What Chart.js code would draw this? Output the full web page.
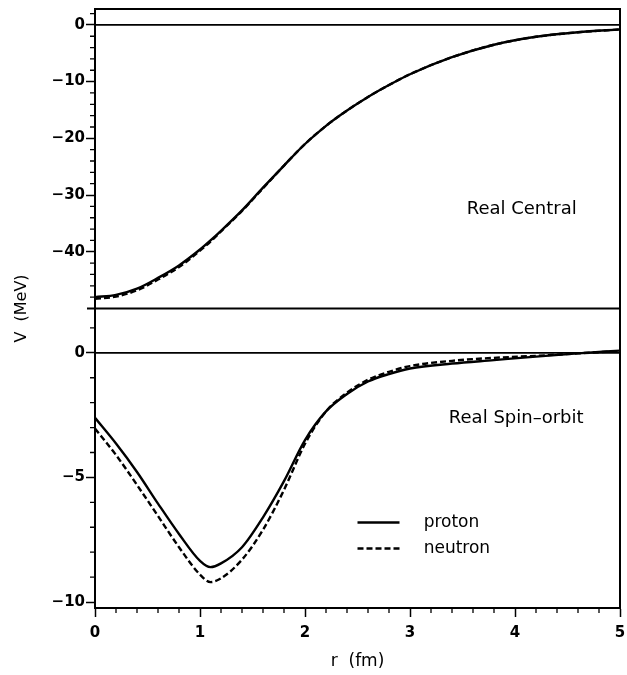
<!DOCTYPE html>
<html lang="en">
<head>
    <meta charset="UTF-8">
    <title>Real Central / Real Spin-orbit</title>
    <script src="https://cdn.jsdelivr.net/npm/chart.js"></script>
    <style>
        body { margin: 0; background: #fff; }
        .wrap { width: 627px; height: 675px; }
    </style>
</head>
<body>
    <div class="wrap"><canvas id="pot"></canvas></div>

    <script>
        // r (fm)
        const r = [0, 0.2, 0.4, 0.6, 0.8, 1.0, 1.1, 1.2, 1.4, 1.6, 1.8, 2.0, 2.2, 2.4, 2.6, 2.8, 3.0, 3.4, 3.8, 4.2, 4.6, 5.0];

        // real central (MeV)
        const centralProton  = [-48.0, -47.6, -46.5, -44.6, -42.4, -39.6, -38.0, -36.3, -32.7, -28.7, -24.8, -21.0, -17.8, -15.1, -12.7, -10.6, -8.7, -5.7, -3.5, -2.1, -1.3, -0.8];
        const centralNeutron = [-48.3, -47.9, -46.8, -44.9, -42.7, -39.8, -38.2, -36.4, -32.8, -28.8, -24.8, -21.0, -17.8, -15.1, -12.7, -10.6, -8.7, -5.7, -3.5, -2.1, -1.3, -0.8];

        // real spin-orbit (MeV)
        const soProton  = [-2.61, -3.64, -4.78, -6.05, -7.27, -8.35, -8.60, -8.45, -7.80, -6.60, -5.15, -3.50, -2.35, -1.65, -1.15, -0.85, -0.63, -0.43, -0.29, -0.15, -0.02, 0.09];
        const soNeutron = [-3.04, -4.10, -5.30, -6.55, -7.80, -8.90, -9.20, -9.05, -8.30, -7.10, -5.50, -3.65, -2.35, -1.60, -1.08, -0.76, -0.53, -0.32, -0.20, -0.12, -0.02, 0.07];

        // tick labels
        const xTicks = [0, 1, 2, 3, 4, 5];
        const centralTicks = [0, -10, -20, -30, -40];
        const soTicks = [0, -5, -10];

        const pts = (ys) => r.map((x, i) => ({ x: x, y: ys[i] }));
        const minus = (v) => (v < 0 ? '\u2212' + Math.abs(v) : String(v));
        const tickFont = { family: 'DejaVu Sans', size: 15, weight: 'bold' };

        function line(label, data, axis, dashed) {
            return {
                label: label,
                data: pts(data),
                yAxisID: axis,
                borderColor: '#000',
                borderWidth: 2.4,
                borderDash: dashed ? [6, 3] : [],
                pointRadius: 0,
                fill: false,
                cubicInterpolationMode: 'monotone'
            };
        }

        function yAxis(min, max, ticks) {
            return {
                type: 'linear',
                position: 'left',
                stack: 'v',
                stackWeight: 1,
                min: min,
                max: max,
                afterBuildTicks: (s) => { s.ticks = ticks.map(v => ({ value: v })); },
                afterFit: (s) => { s.width = 95; s.paddingTop = 0; s.paddingBottom = 0; },
                ticks: { color: '#000', font: tickFont, padding: 1, callback: minus },
                grid: { drawOnChartArea: false, tickLength: 9, tickColor: '#000', tickWidth: 1.5 },
                border: { color: '#000', width: 2 }
            };
        }

        // frame, zero lines, minor ticks, panel texts and legend
        const decor = {
            id: 'decor',
            beforeDatasetsDraw(chart) {
                const c = chart.ctx, a = chart.chartArea;
                c.save();
                c.strokeStyle = '#000';
                c.lineWidth = 1.6;
                ['yc', 'yso'].forEach(id => {
                    const y0 = chart.scales[id].getPixelForValue(0);
                    c.beginPath(); c.moveTo(a.left, y0); c.lineTo(a.right, y0); c.stroke();
                });
                c.restore();
            },
            afterDraw(chart) {
                const c = chart.ctx, a = chart.chartArea;
                const x = chart.scales.x, yc = chart.scales.yc, yso = chart.scales.yso;
                c.save();
                c.strokeStyle = '#000';
                c.lineWidth = 2;
                c.beginPath();
                c.moveTo(a.left, a.top); c.lineTo(a.right, a.top); c.lineTo(a.right, a.bottom);
                c.stroke();
                // separator between panels
                c.beginPath();
                c.moveTo(a.left - 8, yc.bottom); c.lineTo(a.right, yc.bottom);
                c.stroke();

                // minor ticks
                c.lineWidth = 1.3;
                c.beginPath();
                for (let v = -48; v <= 2; v += 2) {
                    if (v % 10 === 0) continue;
                    const p = yc.getPixelForValue(v);
                    c.moveTo(a.left, p); c.lineTo(a.left - 5, p);
                }
                for (let v = -9; v <= 1; v += 1) {
                    if (v % 5 === 0) continue;
                    const p = yso.getPixelForValue(v);
                    c.moveTo(a.left, p); c.lineTo(a.left - 5, p);
                }
                for (let i = 1; i < 25; i++) {
                    if (i % 5 === 0) continue;
                    const p = x.getPixelForValue(i * 0.2);
                    c.moveTo(p, a.bottom); c.lineTo(p, a.bottom + 5);
                }
                c.stroke();

                // texts
                c.fillStyle = '#000';
                c.font = '18px "DejaVu Sans"';
                c.textBaseline = 'middle';
                c.textAlign = 'left';
                c.fillText('Real Central', x.getPixelForValue(3.54), yc.getPixelForValue(-32.5));
                c.fillText('Real Spin\u2013orbit', x.getPixelForValue(3.37), yso.getPixelForValue(-2.63));

                // legend
                c.font = '17px "DejaVu Sans"';
                const lx0 = x.getPixelForValue(2.5), lx1 = x.getPixelForValue(2.9), tx = x.getPixelForValue(3.13);
                [[chart.data.datasets[2], -6.81, 'proton'], [chart.data.datasets[3], -7.85, 'neutron']].forEach(([ds, v, txt]) => {
                    const py = yso.getPixelForValue(v);
                    c.lineWidth = ds.borderWidth;
                    c.setLineDash(ds.borderDash);
                    c.beginPath(); c.moveTo(lx0, py); c.lineTo(lx1, py); c.stroke();
                    c.setLineDash([]);
                    c.fillText(txt, tx, py);
                });

                // shared y title
                c.font = '16px "DejaVu Sans"';
                c.textAlign = 'center';
                c.translate(22, (a.top + a.bottom) / 2);
                c.rotate(-Math.PI / 2);
                c.fillText('V  (MeV)', 0, 0);
                c.restore();
            }
        };

        new Chart(document.getElementById('pot'), {
            type: 'line',
            data: {
                datasets: [
                    line('proton', centralProton, 'yc', false),
                    line('neutron', centralNeutron, 'yc', true),
                    line('proton', soProton, 'yso', false),
                    line('neutron', soNeutron, 'yso', true)
                ]
            },
            options: {
                responsive: true,
                maintainAspectRatio: false,
                animation: false,
                layout: { padding: { top: 9, right: 7, left: 0, bottom: 0 } },
                plugins: { legend: { display: false }, tooltip: { enabled: false } },
                scales: {
                    // stacked scales: the first one listed goes to the bottom
                    yso: yAxis(-10.24, 1.78, soTicks),
                    yc: yAxis(-50, 2.8, centralTicks),
                    x: {
                        type: 'linear',
                        min: 0,
                        max: 5,
                        afterBuildTicks: (s) => { s.ticks = xTicks.map(v => ({ value: v })); },
                        afterFit: (s) => { s.height = 67; s.paddingLeft = 0; s.paddingRight = 0; },
                        ticks: { color: '#000', font: tickFont, padding: 7, maxRotation: 0 },
                        grid: { drawOnChartArea: false, tickLength: 9, tickColor: '#000', tickWidth: 1.5 },
                        border: { color: '#000', width: 2 },
                        title: { display: true, text: 'r  (fm)', color: '#000', font: { family: 'DejaVu Sans', size: 17 }, padding: { top: 0, bottom: 3 } }
                    }
                }
            },
            plugins: [decor]
        });
    </script>
</body>
</html>
